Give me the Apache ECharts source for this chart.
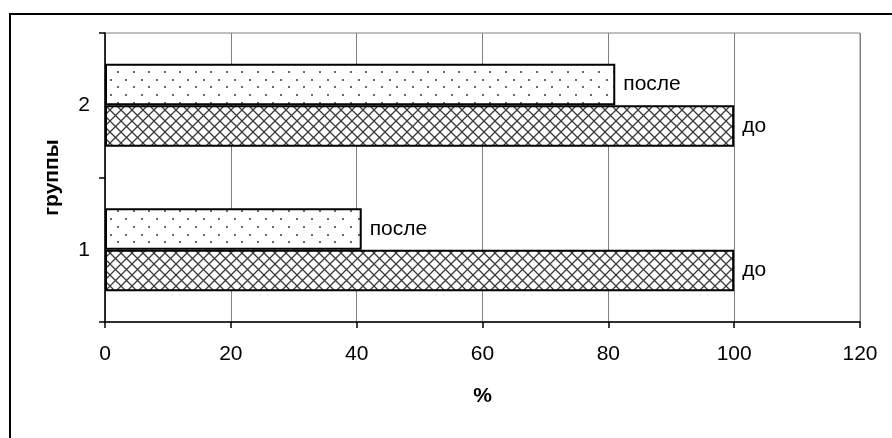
<!DOCTYPE html>
<html>
<head>
<meta charset="utf-8">
<script src="https://cdn.jsdelivr.net/npm/echarts@6/dist/echarts.min.js"></script>
<style>
  html, body { margin: 0; padding: 0; background: #fff; }
  #chart { width: 892px; height: 438px; }
</style>
</head>
<body>
<div id="chart"></div>
<script>
// Groups on the category axis and the two measurements per group (%)
const groups = ['1', '2'];
const seriesNames = ['до', 'после'];
const valuesBefore = [100, 100];
const valuesAfter = [40.8, 81.1];
const xTicks = { min: 0, max: 120, interval: 20 };
const axisNameX = '%';
const axisNameY = 'группы';

const FONT = '"Liberation Sans", Arial, sans-serif';
const FS = 21;

// Cross-hatch fill: two diagonals per tile
function hatchPattern() {
  const s = 11;
  const c = document.createElement('canvas');
  c.width = s; c.height = s;
  const g = c.getContext('2d');
  g.fillStyle = '#fff';
  g.fillRect(0, 0, s, s);
  g.strokeStyle = '#3a3a3a';
  g.lineWidth = 1.3;
  g.beginPath();
  g.moveTo(-1, -1); g.lineTo(s + 1, s + 1);
  g.moveTo(-1, s + 1); g.lineTo(s + 1, -1);
  g.stroke();
  return c;
}

// Sparse staggered dot fill
function dotPattern() {
  const w = 31, h = 31;
  const c = document.createElement('canvas');
  c.width = w; c.height = h;
  const g = c.getContext('2d');
  g.fillStyle = '#fff';
  g.fillRect(0, 0, w, h);
  g.fillStyle = '#6a6a6a';
  for (let r = 0; r < 4; r++) {
    const y = Math.round(r * 7.75) + 2;
    const off = (r % 2) ? 7.75 : 0;
    for (let k = 0; k < 2; k++) {
      const x = Math.round(off + k * 15.5) + 2;
      g.fillRect(x - 1, y - 1, 2, 2);
    }
  }
  return c;
}

const chart = echarts.init(document.getElementById('chart'), null, { renderer: 'canvas' });

const labelStyle = {
  show: true,
  position: 'right',
  distance: 8,
  color: '#000',
  fontFamily: FONT,
  fontSize: FS,
  formatter: p => p.seriesName
};

chart.setOption({
  backgroundColor: '#fff',
  animation: false,
  graphic: [{
    type: 'rect',
    shape: { x: 10, y: 14, width: 1000, height: 600 },
    style: { fill: 'none', stroke: '#000', lineWidth: 2 },
    silent: true
  }],
  grid: {
    left: 105, right: 32, top: 33, bottom: 116,
    show: true, borderColor: '#808080', borderWidth: 1
  },
  xAxis: {
    type: 'value',
    min: xTicks.min, max: xTicks.max, interval: xTicks.interval,
    name: axisNameX,
    nameLocation: 'middle',
    nameGap: 64,
    nameTextStyle: { fontFamily: FONT, fontSize: FS, fontWeight: 'bold', color: '#000' },
    axisLine: { show: true, lineStyle: { color: '#000', width: 1.5 } },
    axisTick: { show: true, length: 6, lineStyle: { color: '#000', width: 1.5 } },
    axisLabel: { margin: 22, color: '#000', fontFamily: FONT, fontSize: FS },
    splitLine: { show: true, lineStyle: { color: '#808080', width: 1 } }
  },
  yAxis: {
    type: 'category',
    data: groups,
    name: axisNameY,
    nameLocation: 'middle',
    nameGap: 42,
    nameTextStyle: { fontFamily: FONT, fontSize: FS, fontWeight: 'bold', color: '#000' },
    axisLine: { show: true, lineStyle: { color: '#000', width: 1.5 } },
    axisTick: { show: true, length: 6, lineStyle: { color: '#000', width: 1.5 } },
    axisLabel: { margin: 15, color: '#000', fontFamily: FONT, fontSize: FS },
    splitLine: { show: false }
  },
  series: [
    {
      name: seriesNames[1],
      type: 'bar',
      data: valuesAfter,
      barGap: '0%',
      barCategoryGap: '42.5%',
      itemStyle: { color: { image: dotPattern(), repeat: 'repeat' }, borderColor: '#000', borderWidth: 2 },
      label: labelStyle
    },
    {
      name: seriesNames[0],
      type: 'bar',
      data: valuesBefore,
      barGap: '0%',
      barCategoryGap: '42.5%',
      itemStyle: { color: { image: hatchPattern(), repeat: 'repeat' }, borderColor: '#000', borderWidth: 2 },
      label: labelStyle
    }
  ]
});
</script>
</body>
</html>
